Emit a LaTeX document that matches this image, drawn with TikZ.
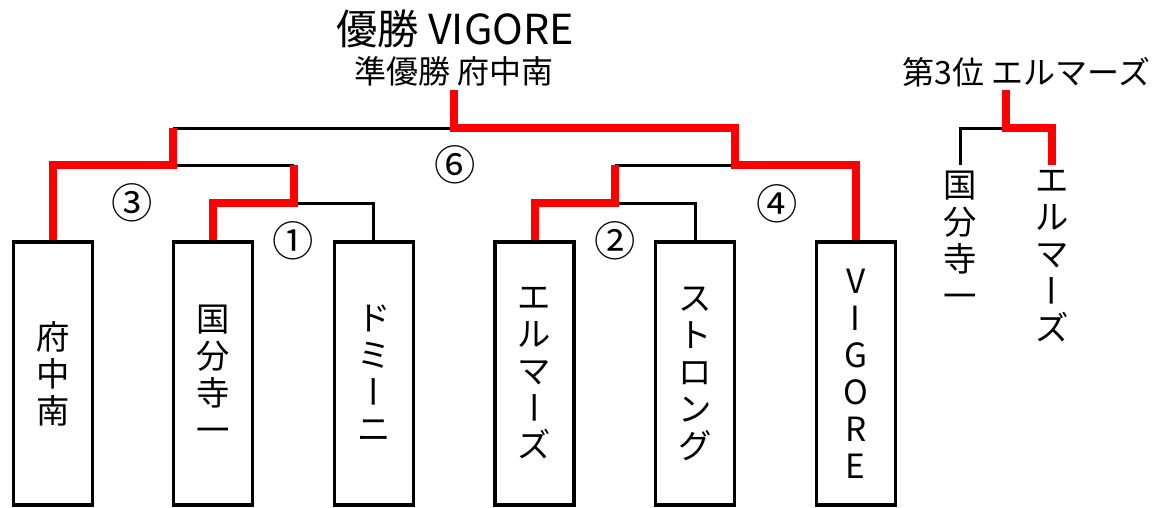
\documentclass[tikz,border=0pt]{standalone}
\usepackage{fontspec}
\setmainfont{Noto Sans CJK JP}
\usepackage{graphicx}
\usepackage{tikz}
\usetikzlibrary{calc}
\newcommand{\chouon}{\rotatebox[origin=c]{90}{\rule[-0.12em]{0pt}{1em}ー}}
\tikzset{
  team/.style = {draw, line width=2.5pt, minimum width=59.25pt, minimum height=197.25pt,
    inner sep=0pt, align=center, font=\fontsize{25}{27.75}\selectfont},
  tate/.style = {inner xsep=0pt, inner ysep=4pt, align=center, font=\fontsize{25}{27.75}\selectfont},
  matchno/.style = {font=\fontsize{31}{31}\selectfont},
  lose/.style = {line width=2.25pt, black},
  win/.style = {line width=6pt, red}
}

\begin{document}
\begin{tikzpicture}[x=0.75pt,y=-0.75pt]
\useasboundingbox (0,0) rectangle (1162,507);

  \foreach \nm/\txt [count=\i from 0] in {fuchu/{府\\中\\南}, kokubunji/{国\\分\\寺\\一},
      domini/{ド\\ミ\\\chouon\\ニ}, elmars/{エ\\ル\\マ\\\chouon\\ズ},
      strong/{ス\\ト\\ロ\\ン\\グ}, vigore/{V\\I\\G\\O\\R\\E}}{
    \node[team] (\nm) at (52.7+160.6*\i,373.5) {\txt};
  }

  \node[font=\fontsize{31}{31}\selectfont] (champion) at (455,29) {優勝 VIGORE};
  \node[font=\fontsize{24}{24}\selectfont] (runnerup) at (454,71) {準優勝 府中南};
  \node[font=\fontsize{24}{24}\selectfont] (third) at (1026.5,72.5) {第3位 エルマーズ};

  \node[tate, anchor=north] (third1) at (960,165) {国\\分\\寺\\一};
  \node[tate, anchor=north] (third2) at (1052,165) {エ\\ル\\マ\\\chouon\\ズ};

  \coordinate (j1) at (293.6,203);
  \coordinate (j2) at (614.8,203);
  \coordinate (j3) at (173.2,165);
  \coordinate (j4) at (735.4,165);
  \coordinate (j6) at (454.3,128);
  \coordinate (top) at (454.3,90);
  \coordinate (j5) at (1006,128);
  \coordinate (top3) at (1006,90);

  \node[matchno] (m1) at (293,241) {①};
  \node[matchno] (m2) at (615,241) {②};
  \node[matchno] (m3) at (132,203) {③};
  \node[matchno] (m4) at (777,204) {④};
  \node[matchno] (m6) at (455,165) {⑥};

  \draw[lose] (j1) -| (domini.north);
  \draw[lose] (j2) -| (strong.north);
  \draw[lose] (j3) -- (j1 |- j3);
  \draw[lose] (j2 |- j4) -- (j4);
  \draw[lose] (j3 |- j6) -- (j6);
  \draw[lose] (j5) -| (third1.north);

  \draw[win] (fuchu.north) |- (j3) -- (j3 |- j6);
  \draw[win] (kokubunji.north) |- (j1) -- (j1 |- j3);
  \draw[win] (elmars.north) |- (j2) -- (j2 |- j4);
  \draw[win] (vigore.north) |- (j4) -- (j4 |- j6) -- (j6) -- (top);
  \draw[win] (third2.north) |- (j5) -- (top3);

\end{tikzpicture}
\end{document}
